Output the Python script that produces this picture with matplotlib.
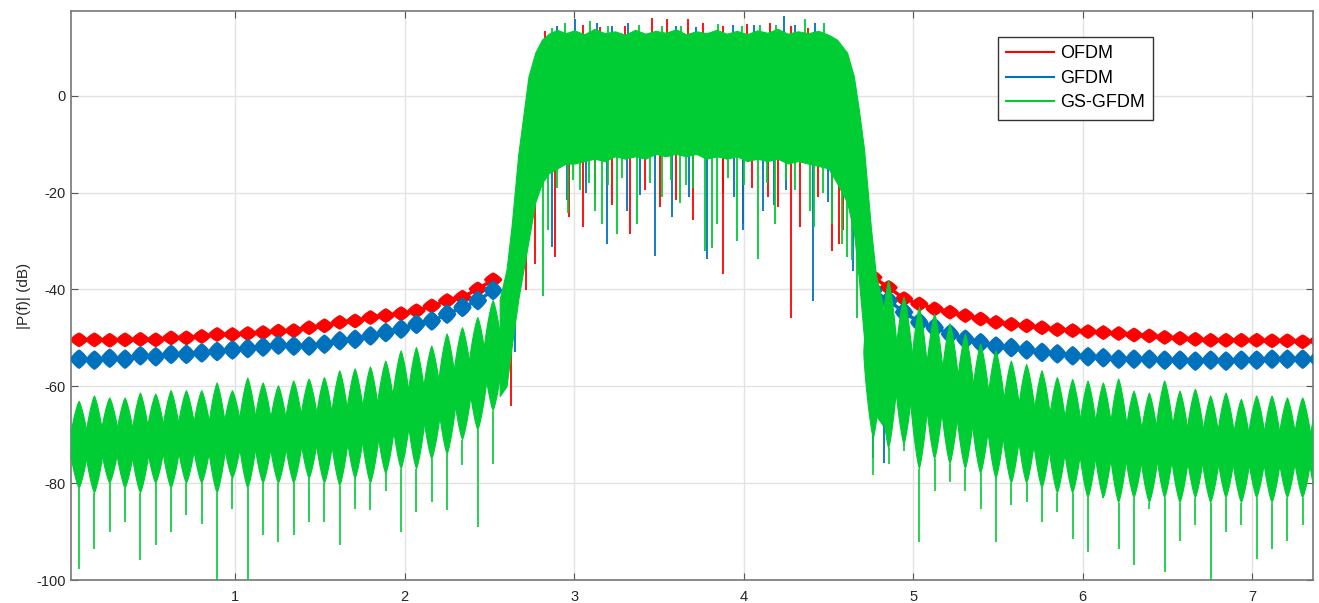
import numpy as np
import matplotlib.pyplot as plt
from matplotlib.collections import PolyCollection
from matplotlib.lines import Line2D

plt.rcParams['font.family'] = ['Liberation Sans', 'DejaVu Sans']
plt.rcParams['axes.unicode_minus'] = False

c_ofdm = '#FF0000'
c_gfdm = '#0072BD'
c_gs = '#00CC33'

# ---------------- sidelobes (one value per lobe) ----------------
lobe_step = 0.0905
left_x = 0.078 + lobe_step * np.arange(28)
right_x = 4.765 + lobe_step * np.arange(30)

ofdm_left = [-50.4, -50.4, -50.5, -50.4, -50.3, -50.4, -50.0, -50.0, -49.7, -49.3,
             -49.3, -49.1, -48.9, -48.6, -48.5, -47.9, -47.5, -46.8, -46.5, -45.8,
             -45.4, -45.0, -44.4, -43.4, -42.3, -41.6, -39.9, -38.0]
ofdm_right = [-37.5, -39.6, -41.9, -43.0, -44.0, -44.7, -45.4, -46.1, -46.8, -47.2,
              -47.5, -47.9, -48.3, -48.5, -48.7, -48.9, -49.1, -49.4, -49.6, -49.9,
              -50.1, -50.3, -50.5, -50.5, -50.5, -50.5, -50.6, -50.6, -50.8, -50.6]

gfdm_left = [-54.4, -54.6, -54.2, -54.4, -53.7, -53.9, -53.4, -53.4, -53.1, -52.8,
             -52.5, -52.2, -51.9, -51.5, -51.7, -51.7, -51.3, -50.6, -50.3, -49.6,
             -48.9, -48.2, -47.2, -46.5, -45.1, -43.7, -42.3, -40.2]
gfdm_right = [-40.2, -42.3, -44.7, -46.8, -47.9, -49.2, -50.3, -51.0, -51.7, -52.0,
              -52.5, -53.0, -53.3, -53.7, -53.9, -54.1, -54.4, -54.4, -54.4, -54.6,
              -54.6, -54.8, -54.6, -54.8, -54.6, -54.6, -54.4, -54.4, -54.4, -54.4]

gs_left_top = [-63.1, -62.0, -62.4, -62.4, -61.4, -61.6, -60.9, -60.9, -60.9, -59.3,
               -60.9, -58.3, -59.3, -59.9, -58.9, -58.5, -58.2, -56.8, -56.4, -56.0,
               -54.8, -52.7, -52.0, -51.7, -49.2, -47.9, -45.8, -42.3]
gs_left_low = [-81, -82, -80, -81, -82, -80, -81, -80, -80, -82,
               -79, -81, -80, -80, -80, -79, -80, -80.5, -79, -80,
               -78, -77, -77, -75, -74, -71, -69, -65]
gs_left_spike = [-97.7, -93.6, -90.0, -88.0, -95.9, -92.7, -90.0, -86.5, -88.4, -100,
                 -85.3, -100, -90.7, -92.1, -90.7, -88.0, -88.0, -92.7, -85.3, -85.5,
                 -81.7, -90.0, -85.9, -83.8, -85.5, -76.2, -89.0, -76.0]

gs_right_top = [-35.4, -38.2, -41.6, -43.7, -45.1, -47.1, -49.2, -51.3, -52.7, -54.8,
                -55.5, -56.8, -58.2, -58.6, -58.9, -59.3, -58.5, -61.0, -61.4, -58.9,
                -61.0, -60.6, -62.0, -61.4, -62.7, -62.0, -62.0, -62.4, -62.4, -63.1]
gs_right_low = [-70.7, -72.8, -72, -77, -75, -76, -77, -78, -79, -80,
                -80, -81, -82, -82, -83, -83, -84, -83, -84, -83,
                -84, -83, -84, -83, -84, -83, -84, -83, -83, -84]
gs_right_spike = [-78.3, -76, -73.4, -92.2, -81.7, -79.7, -81.7, -85.3, -92.2, -84.5,
                  -83.8, -88, -85.9, -91.5, -94.2, -81.7, -93.6, -97, -85.3, -98.3,
                  -92, -88.6, -100, -90, -88.6, -95.6, -93.6, -92, -88.6, -88]

# ---------------- passband envelope ----------------
pb_x = [2.56, 2.60, 2.63, 2.67, 2.73, 2.77, 2.81, 2.85, 2.90, 2.95, 3.00, 3.06,
        3.12, 3.18, 3.24, 3.30, 3.36, 3.42, 3.48, 3.54, 3.60, 3.66, 3.72, 3.78,
        3.84, 3.90, 3.96, 4.02, 4.08, 4.14, 4.20, 4.26, 4.32, 4.38, 4.44, 4.50,
        4.55, 4.61, 4.65, 4.68, 4.71, 4.75, 4.78, 4.82]
pb_top = [-42, -36, -27, -12, 4, 8.9, 11.6, 12.8, 13.6, 12.9, 13.5, 12.7,
          13.8, 12.9, 13.3, 12.6, 13.6, 12.8, 13.4, 13.0, 13.7, 12.7, 13.3, 12.9,
          13.6, 12.8, 13.4, 12.7, 13.5, 13.0, 13.8, 12.8, 13.3, 12.9, 13.4, 12.6,
          11.6, 8.9, 4, -3, -11, -27, -37, -43]
pb_low = [-62, -60, -52, -42, -30, -22, -18, -16, -15, -14, -14, -13.5,
          -13, -13.5, -12.5, -13, -12.5, -13, -12, -12.5, -12, -12.5, -12, -13,
          -12.5, -13, -12.5, -13.5, -13, -13.5, -13, -14, -13.5, -14, -14.5, -15,
          -18, -22, -28, -38, -50, -62, -66, -68]

# deep notches inside the band
ofdm_dip_x = [2.718, 2.885, 3.049, 3.329, 3.701, 3.876, 3.995, 4.144, 4.280, 4.521,
              4.587, 2.968, 3.506, 4.333, 2.625, 4.750, 2.77, 4.565, 3.12, 3.42,
              3.60, 4.05, 4.44, 3.22, 3.88, 4.20]
ofdm_dip_y = [-40.2, -33.3, -27.1, -28.5, -25.7, -36.8, -26.4, -20.9, -45.8, -32.0,
              -27.8, -25.0, -23.0, -27.1, -64.0, -61.6, -34.7, -30.6, -20.5, -19.5,
              -21.5, -19.0, -21.0, -22.5, -20.0, -23.0]
gfdm_dip_x = [2.866, 3.191, 3.476, 3.782, 3.996, 4.408, 4.113, 2.748, 3.309, 4.645,
              3.575, 2.65, 4.765, 4.83, 3.94, 3.07, 3.68, 4.25, 4.50, 2.96, 3.39,
              4.18]
gfdm_dip_y = [-31.3, -30.6, -33.0, -33.7, -27.8, -42.3, -23.7, -23.7, -23.7, -36.1,
              -25.0, -53.0, -74.8, -75.9, -20.9, -20.0, -21.0, -19.5, -22.0, -21.5,
              -20.5, -22.5]
gs_dip_x = [2.816, 3.254, 3.772, 4.083, 4.412, 4.668, 4.186, 4.609, 3.033, 3.624,
            2.846, 2.964, 3.122, 3.161, 3.368, 3.516, 3.841, 3.959, 4.392, 4.521,
            4.580, 4.639, 3.81, 2.90, 3.20, 3.45, 3.70, 4.00, 4.30, 2.99, 3.09,
            3.28, 3.57, 3.66, 3.91, 4.14, 4.25, 4.47]
gs_dip_y = [-41.3, -28.5, -32.0, -33.7, -27.1, -45.8, -26.4, -33.3, -19.5, -22.2,
            -27.8, -24.3, -23.7, -26.4, -26.4, -20.9, -26.4, -29.9, -23.7, -26.4,
            -30.6, -34.0, -31.5, -19.0, -18.5, -18.0, -19.0, -18.5, -19.5, -17.5,
            -18.0, -17.0, -17.5, -18.5, -17.0, -18.0, -17.5, -20.0]

# peaks poking above the band
ofdm_peak_x = [2.826, 3.457, 3.545, 3.671, 3.762, 4.156, 4.382, 3.05, 3.30, 4.02,
               3.15, 3.88, 4.28]
ofdm_peak_y = [13.3, 16.1, 15.8, 15.8, 15.1, 15.1, 14.0, 14.6, 14.4, 14.8,
               14.2, 14.5, 14.3]
gfdm_peak_x = [3.004, 3.132, 3.317, 3.939, 4.235, 4.422, 2.90, 3.60, 4.30, 3.22,
               3.72, 4.06]
gfdm_peak_y = [15.8, 15.1, 15.1, 14.7, 16.5, 15.1, 14.3, 14.5, 14.6, 14.4,
               14.2, 14.6]
gs_peak_x = [2.944, 3.092, 4.097, 4.363, 4.471, 3.38, 3.52, 3.85, 2.87, 3.20,
             3.63, 3.99, 4.19]
gs_peak_y = [15.1, 15.4, 14.7, 15.8, 15.1, 14.6, 14.5, 14.8, 13.9, 14.3,
             14.5, 14.4, 14.6]


def lobe_polys(xs, tops, lows, half_w, p):
    # superellipse-shaped lobe: p=1 gives a diamond, p=2 an ellipse
    t = np.linspace(-1, 1, 41)
    polys = []
    for x, top, low in zip(xs, tops, lows):
        mid = 0.5 * (top + low)
        half_h = 0.5 * (top - low)
        w = half_w * (1 - np.abs(t) ** p) ** (1 / p)
        ys = mid + t * half_h
        polys.append(np.column_stack([np.r_[x + w, (x - w)[::-1]],
                                      np.r_[ys, ys[::-1]]]))
    return polys


def draw_band(ax, xs, levels, half_h, color, z):
    tops = [v + half_h for v in levels]
    lows = [v - half_h for v in levels]
    ax.add_collection(PolyCollection(lobe_polys(xs, tops, lows, 0.56 * lobe_step, 1.2),
                                     facecolors=color, edgecolors=color,
                                     linewidths=0.8, zorder=z))
    ax.plot(xs, levels, color=color, lw=2.5, zorder=z)


def draw_dips(ax, xs, ys, color, z):
    # notches hang from the lower edge of the band
    start = np.interp(xs, pb_x, pb_low) + 3
    ax.vlines(xs, ys, start, color=color, lw=1.3, zorder=z)


fig = plt.figure(figsize=(13.19, 6.03), dpi=100)
ax = fig.add_axes([0.0538, 0.0381, 0.9417, 0.9437])

# OFDM
draw_band(ax, left_x, ofdm_left, 1.4, c_ofdm, 2)
draw_band(ax, right_x, ofdm_right, 1.4, c_ofdm, 2)
draw_dips(ax, ofdm_dip_x, ofdm_dip_y, c_ofdm, 2)
ax.vlines(ofdm_peak_x, 10, ofdm_peak_y, color=c_ofdm, lw=1.3, zorder=2)

# GFDM
draw_band(ax, left_x, gfdm_left, 1.9, c_gfdm, 3)
draw_band(ax, right_x, gfdm_right, 1.9, c_gfdm, 3)
draw_dips(ax, gfdm_dip_x, gfdm_dip_y, c_gfdm, 3)
ax.vlines(gfdm_peak_x, 10, gfdm_peak_y, color=c_gfdm, lw=1.3, zorder=3)

# GS-GFDM
for xs, tops, lows, spikes in [(left_x, gs_left_top, gs_left_low, gs_left_spike),
                               (right_x, gs_right_top, gs_right_low, gs_right_spike)]:
    ax.add_collection(PolyCollection(lobe_polys(xs, tops, lows, 0.62 * lobe_step, 1.25),
                                     facecolors=c_gs, edgecolors=c_gs,
                                     linewidths=0.8, zorder=4))
    ax.vlines(xs, spikes, lows, color=c_gs, lw=1.2, zorder=4)
ax.fill_between(pb_x, pb_low, pb_top, color=c_gs, lw=0.8, zorder=4)
draw_dips(ax, gs_dip_x, gs_dip_y, c_gs, 4)
ax.vlines(gs_peak_x, 10, gs_peak_y, color=c_gs, lw=1.3, zorder=4)

ax.set_xlim(0.03, 7.36)
ax.set_ylim(-100, 17.5)
ax.set_xticks([1, 2, 3, 4, 5, 6, 7])
ax.set_yticks([-100, -80, -60, -40, -20, 0])
ax.grid(True, color='#e3e3e3', lw=1.0)
ax.set_axisbelow(True)
ax.tick_params(direction='in', top=True, right=True, length=5, color='#555555',
               labelsize=10.5, labelcolor='#262626')
ax.tick_params(axis='x', pad=7)
for s in ax.spines.values():
    s.set_color('#777777')
    s.set_linewidth(1.2)
ax.set_ylabel('|P(f)| (dB)', fontsize=11, color='#262626', labelpad=4)

handles = [Line2D([], [], color=c_ofdm, lw=1.5),
           Line2D([], [], color=c_gfdm, lw=1.5),
           Line2D([], [], color=c_gs, lw=1.5)]
leg = ax.legend(handles, ['OFDM', 'GFDM', 'GS-GFDM'], loc='upper right',
                bbox_to_anchor=(0.871, 0.954), borderaxespad=0, fancybox=False,
                edgecolor='#333333', fontsize=13, handlelength=2.7,
                handletextpad=0.3, borderpad=0.45, labelspacing=0.42, framealpha=1)
leg.get_frame().set_linewidth(1.0)
leg.set_zorder(10)

fig.savefig('out.png', dpi=100)
